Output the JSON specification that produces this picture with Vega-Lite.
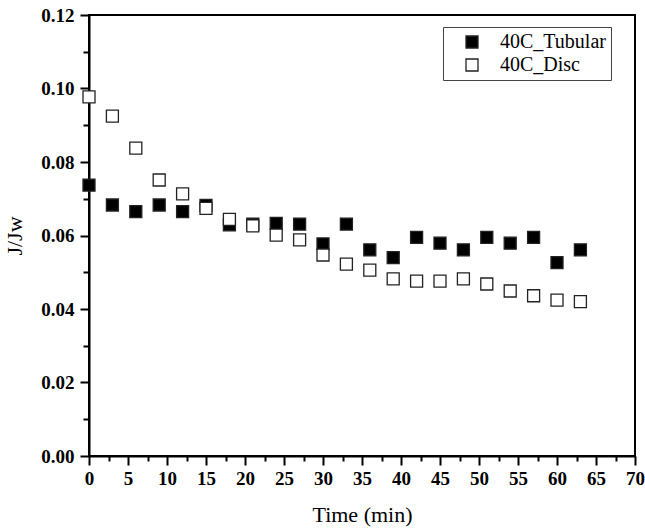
{
  "$schema": "https://vega.github.io/schema/vega-lite/v6.json",
  "width": 546,
  "height": 441,
  "autosize": {"type": "none"},
  "padding": {"left": 89, "top": 15, "right": 10, "bottom": 72},
  "background": "white",
  "config": {
    "view": {"stroke": "black", "strokeWidth": 2},
    "font": "Liberation Serif",
    "axis": {
      "domainColor": "black",
      "domainWidth": 2,
      "tickColor": "black",
      "tickWidth": 2,
      "grid": false,
      "labelFont": "Liberation Serif",
      "labelFontWeight": "bold",
      "labelFontSize": 19,
      "labelColor": "black",
      "titleFont": "Liberation Serif",
      "titleFontWeight": "normal",
      "titleFontSize": 22,
      "titleColor": "black"
    }
  },
  "data": {
    "values": [
      {"time": 0, "value": 0.0737, "series": "40C_Tubular"},
      {"time": 3, "value": 0.0683, "series": "40C_Tubular"},
      {"time": 6, "value": 0.0665, "series": "40C_Tubular"},
      {"time": 9, "value": 0.0683, "series": "40C_Tubular"},
      {"time": 12, "value": 0.0665, "series": "40C_Tubular"},
      {"time": 15, "value": 0.0682, "series": "40C_Tubular"},
      {"time": 18, "value": 0.0629, "series": "40C_Tubular"},
      {"time": 21, "value": 0.0631, "series": "40C_Tubular"},
      {"time": 24, "value": 0.0633, "series": "40C_Tubular"},
      {"time": 27, "value": 0.0631, "series": "40C_Tubular"},
      {"time": 30, "value": 0.0577, "series": "40C_Tubular"},
      {"time": 33, "value": 0.0631, "series": "40C_Tubular"},
      {"time": 36, "value": 0.0561, "series": "40C_Tubular"},
      {"time": 39, "value": 0.0540, "series": "40C_Tubular"},
      {"time": 42, "value": 0.0595, "series": "40C_Tubular"},
      {"time": 45, "value": 0.0579, "series": "40C_Tubular"},
      {"time": 48, "value": 0.0561, "series": "40C_Tubular"},
      {"time": 51, "value": 0.0595, "series": "40C_Tubular"},
      {"time": 54, "value": 0.0579, "series": "40C_Tubular"},
      {"time": 57, "value": 0.0595, "series": "40C_Tubular"},
      {"time": 60, "value": 0.0526, "series": "40C_Tubular"},
      {"time": 63, "value": 0.0561, "series": "40C_Tubular"},
      {"time": 0, "value": 0.0977, "series": "40C_Disc"},
      {"time": 3, "value": 0.0925, "series": "40C_Disc"},
      {"time": 6, "value": 0.0838, "series": "40C_Disc"},
      {"time": 9, "value": 0.0751, "series": "40C_Disc"},
      {"time": 12, "value": 0.0713, "series": "40C_Disc"},
      {"time": 15, "value": 0.0674, "series": "40C_Disc"},
      {"time": 18, "value": 0.0644, "series": "40C_Disc"},
      {"time": 21, "value": 0.0626, "series": "40C_Disc"},
      {"time": 24, "value": 0.0601, "series": "40C_Disc"},
      {"time": 27, "value": 0.0588, "series": "40C_Disc"},
      {"time": 30, "value": 0.0547, "series": "40C_Disc"},
      {"time": 33, "value": 0.0522, "series": "40C_Disc"},
      {"time": 36, "value": 0.0506, "series": "40C_Disc"},
      {"time": 39, "value": 0.0482, "series": "40C_Disc"},
      {"time": 42, "value": 0.0476, "series": "40C_Disc"},
      {"time": 45, "value": 0.0476, "series": "40C_Disc"},
      {"time": 48, "value": 0.0482, "series": "40C_Disc"},
      {"time": 51, "value": 0.0468, "series": "40C_Disc"},
      {"time": 54, "value": 0.0449, "series": "40C_Disc"},
      {"time": 57, "value": 0.0436, "series": "40C_Disc"},
      {"time": 60, "value": 0.0424, "series": "40C_Disc"},
      {"time": 63, "value": 0.0420, "series": "40C_Disc"}
    ]
  },
  "mark": {"type": "point", "shape": "square", "size": 144, "filled": true, "stroke": "#222", "strokeWidth": 1.3, "opacity": 1},
  "encoding": {
    "x": {
      "field": "time",
      "type": "quantitative",
      "scale": {"domain": [0, 70], "nice": false, "zero": false},
      "axis": {
        "title": "Time (min)",
        "values": [0, 2.5, 5, 7.5, 10, 12.5, 15, 17.5, 20, 22.5, 25, 27.5, 30, 32.5, 35, 37.5, 40, 42.5, 45, 47.5, 50, 52.5, 55, 57.5, 60, 62.5, 65, 67.5, 70],
        "labelExpr": "datum.value % 5 === 0 ? format(datum.value, 'd') : ''",
        "tickSize": {"condition": {"test": "datum.value % 5 === 0", "value": 9}, "value": 5},
        "labelPadding": 4,
        "labelFlush": false,
        "labelOverlap": false,
        "titlePadding": 16
      }
    },
    "y": {
      "field": "value",
      "type": "quantitative",
      "scale": {"domain": [0, 0.12], "nice": false, "zero": false},
      "axis": {
        "title": "J/Jw",
        "values": [0, 0.01, 0.02, 0.03, 0.04, 0.05, 0.06, 0.07, 0.08, 0.09, 0.10, 0.11, 0.12],
        "labelExpr": "round(datum.value * 100) % 2 === 0 ? format(datum.value, '.2f') : ''",
        "tickSize": {"condition": {"test": "round(datum.value * 100) % 2 === 0", "value": 9}, "value": 6},
        "labelPadding": 6,
        "labelFlush": false,
        "labelOverlap": false,
        "titlePadding": 14
      }
    },
    "fill": {
      "field": "series",
      "type": "nominal",
      "scale": {"domain": ["40C_Tubular", "40C_Disc"], "range": ["black", "white"]},
      "legend": {
        "title": null,
        "orient": "none",
        "legendX": 354,
        "legendY": 12,
        "direction": "vertical",
        "strokeColor": "#444",
        "fillColor": "white",
        "padding": 5,
        "symbolType": "square",
        "symbolSize": 144,
        "symbolStrokeColor": "#222",
        "symbolStrokeWidth": 1.3,
        "labelFont": "Liberation Serif",
        "labelFontSize": 20,
        "labelColor": "black",
        "labelOffset": 18,
        "rowPadding": 3,
        "symbolOffset": 14,
        "labelLimit": 300
      }
    }
  }
}
